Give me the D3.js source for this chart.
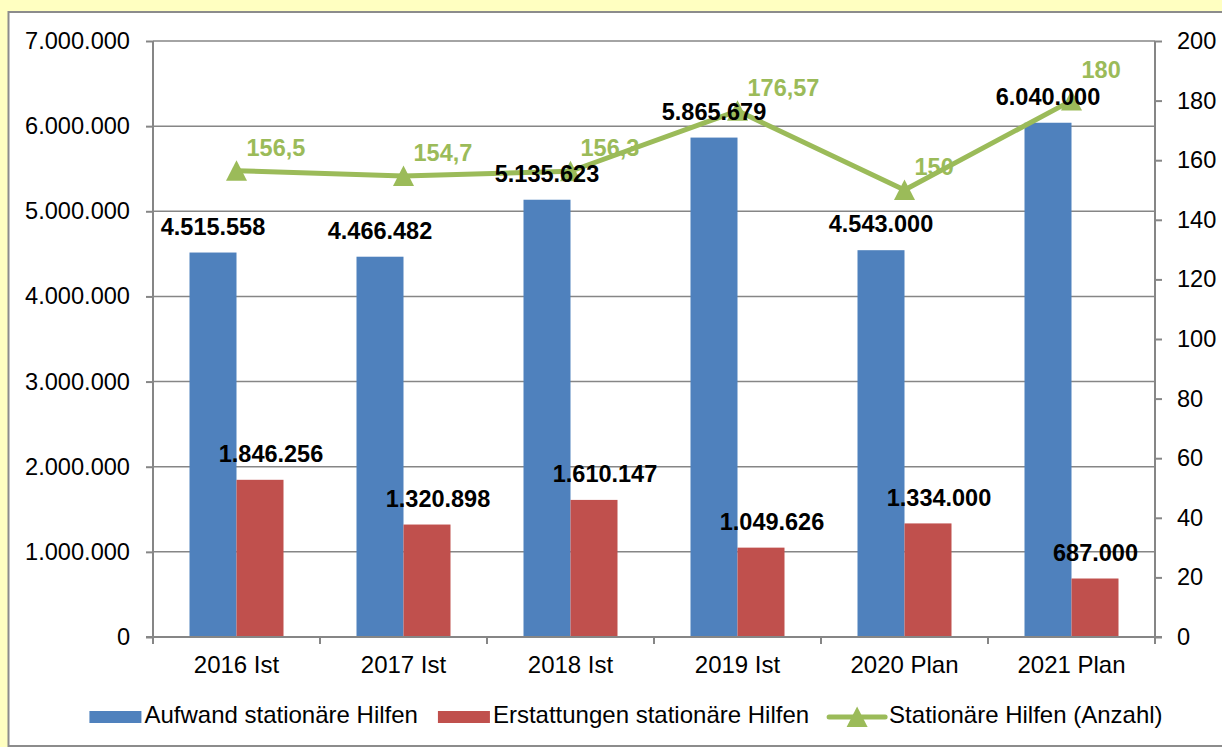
<!DOCTYPE html>
<html>
<head>
<meta charset="utf-8">
<script src="https://cdn.jsdelivr.net/npm/d3@7"></script>
<style>
  html, body { margin: 0; padding: 0; background: #FFFFC1; }
  svg { display: block; font-family: "Liberation Sans", Arial, sans-serif; }
</style>
</head>
<body>
<svg id="chart" width="1222" height="747"></svg>
<script>
const categories = ["2016 Ist", "2017 Ist", "2018 Ist", "2019 Ist", "2020 Plan", "2021 Plan"];
const aufwand = [4515558, 4466482, 5135623, 5865679, 4543000, 6040000];
const erstattungen = [1846256, 1320898, 1610147, 1049626, 1334000, 687000];
const anzahl = [156.5, 154.7, 156.3, 176.57, 150, 180];
const anzahlLabels = ["156,5", "154,7", "156,3", "176,57", "150", "180"];
const leftTicks = [0, 1000000, 2000000, 3000000, 4000000, 5000000, 6000000, 7000000];
const rightTicks = [0, 20, 40, 60, 80, 100, 120, 140, 160, 180, 200];
const seriesNames = ["Aufwand stationäre Hilfen", "Erstattungen stationäre Hilfen", "Stationäre Hilfen (Anzahl)"];

const colors = { blue: "#4F81BD", red: "#C0504D", green: "#9BBB59", axis: "#868686" };
const de = d3.formatLocale({ decimal: ",", thousands: ".", grouping: [3], currency: ["", " €"] });
const fmt = de.format(",d");

const svg = d3.select("#chart");
const W = 1222, H = 747;
const plot = { left: 153, right: 1155, top: 41, bottom: 637 };

svg.append("rect").attr("x", 0).attr("y", 0).attr("width", W).attr("height", H).attr("fill", "#FFFFC1");
svg.append("rect").attr("x", 8.5).attr("y", 12).attr("width", W + 20).attr("height", 734)
  .attr("fill", "#ffffff").attr("stroke", "#8c8c8c").attr("stroke-width", 2);

const x = d3.scaleBand().domain(categories).range([plot.left, plot.right]).padding(0);
const xs = d3.scaleBand().domain(["a", "e"]).range([0, x.bandwidth()]).paddingInner(0).paddingOuter(0.7766);
const yL = d3.scaleLinear().domain([0, 7000000]).range([plot.bottom, plot.top]);
const yR = d3.scaleLinear().domain([0, 200]).range([plot.bottom, plot.top]);

// gridlines
svg.append("g").selectAll("line").data(leftTicks.filter(d => d > 0)).join("line")
  .attr("x1", plot.left).attr("x2", plot.right)
  .attr("y1", d => yL(d)).attr("y2", d => yL(d))
  .attr("stroke", colors.axis).attr("stroke-width", 1.5);

// bars
const g = svg.append("g");
g.selectAll("rect.a").data(aufwand).join("rect").attr("class", "a")
  .attr("x", (d, i) => x(categories[i]) + xs("a")).attr("width", xs.bandwidth())
  .attr("y", d => yL(d)).attr("height", d => yL(0) - yL(d)).attr("fill", colors.blue);
g.selectAll("rect.e").data(erstattungen).join("rect").attr("class", "e")
  .attr("x", (d, i) => x(categories[i]) + xs("e")).attr("width", xs.bandwidth())
  .attr("y", d => yL(d)).attr("height", d => yL(0) - yL(d)).attr("fill", colors.red);

// axes
const axL = svg.append("g").attr("transform", `translate(${plot.left},0)`)
  .call(d3.axisLeft(yL).tickValues(leftTicks).tickSize(7).tickPadding(16).tickFormat(fmt));
const axR = svg.append("g").attr("transform", `translate(${plot.right},0)`)
  .call(d3.axisRight(yR).tickValues(rightTicks).tickSize(7).tickPadding(15));
const xEdges = categories.map(c => x(c)).concat([plot.right]);
const axX = svg.append("g");
axX.append("line").attr("x1", plot.left - 7).attr("x2", plot.right + 7)
  .attr("y1", plot.bottom).attr("y2", plot.bottom).attr("stroke", colors.axis).attr("stroke-width", 2);
axX.selectAll("line.t").data(xEdges).join("line").attr("class", "t")
  .attr("x1", d => d).attr("x2", d => d).attr("y1", plot.bottom).attr("y2", plot.bottom + 7)
  .attr("stroke", colors.axis).attr("stroke-width", 2);
axX.selectAll("text").data(categories).join("text")
  .attr("x", d => x(d) + x.bandwidth() / 2).attr("y", plot.bottom + 36)
  .attr("text-anchor", "middle").attr("font-size", 24).attr("fill", "#000").text(d => d);

[axL, axR].forEach(a => {
  a.select(".domain").attr("stroke", colors.axis).attr("stroke-width", 2);
  a.selectAll(".tick line").attr("stroke", colors.axis).attr("stroke-width", 2);
  a.selectAll(".tick text").attr("font-size", 23.6).attr("fill", "#000")
    .attr("font-family", "'Liberation Sans', Arial, sans-serif");
});
axL.select(".domain").attr("d", `M0,${plot.bottom}V${plot.top}`);
axR.select(".domain").attr("d", `M0,${plot.bottom}V${plot.top}`);

// line
const pts = anzahl.map((d, i) => [x(categories[i]) + x.bandwidth() / 2, yR(d)]);
svg.append("path").attr("d", d3.line()(pts)).attr("fill", "none")
  .attr("stroke", colors.green).attr("stroke-width", 5).attr("stroke-linejoin", "round");
const tri = (cx, cy) => `M${cx},${cy - 10.5}L${cx + 10.5},${cy + 10}L${cx - 10.5},${cy + 10}Z`;
svg.append("g").selectAll("path").data(pts).join("path")
  .attr("d", d => tri(d[0], d[1])).attr("fill", colors.green);

// green labels
const greenLab = svg.append("g").selectAll("text").data(pts).join("text")
  .attr("x", d => d[0] + 10).attr("y", d => d[1] - 15)
  .attr("font-size", 23.5).attr("font-weight", "bold").attr("fill", colors.green)
  .text((d, i) => anzahlLabels[i]);

// bar labels
const blueLab = svg.append("g").selectAll("text").data(aufwand).join("text")
  .attr("x", (d, i) => x(categories[i]) + xs("a") + xs.bandwidth() / 2).attr("y", d => yL(d) - 18)
  .attr("text-anchor", "middle").attr("font-size", 23.5).attr("font-weight", "bold").attr("fill", "#000")
  .text(d => fmt(d));
const redLab = svg.append("g").selectAll("text").data(erstattungen).join("text")
  .attr("y", d => yL(d) - 17.5)
  .attr("text-anchor", "middle").attr("font-size", 23.5).attr("font-weight", "bold").attr("fill", "#000")
  .text(d => fmt(d));
redLab.attr("x", function (d, i) {
  const w = this.getComputedTextLength();
  const c = x(categories[i]) + xs("e") + xs.bandwidth() / 2 + 11;
  return Math.min(c, plot.right - 17 - w / 2);
});

// nudge green labels upward where they clearly collide with a value label
const blackBoxes = blueLab.nodes().map(n => n.getBBox());
greenLab.each(function () {
  const b = this.getBBox();
  blackBoxes.forEach(k => {
    const ox = Math.min(b.x + b.width, k.x + k.width) - Math.max(b.x, k.x);
    const oy = Math.min(b.y + b.height, k.y + k.height) - Math.max(b.y, k.y);
    if (ox > 0.4 * b.width && oy > 0) {
      const cur = +d3.select(this).attr("y");
      d3.select(this).attr("y", cur - oy - 1);
    }
  });
});

// legend
const leg = svg.append("g");
const legY = 723;
const items = [];
seriesNames.forEach((name, i) => {
  const it = leg.append("g");
  if (i < 2) {
    it.append("rect").attr("x", 0).attr("y", -12).attr("width", 52).attr("height", 12)
      .attr("fill", i === 0 ? colors.blue : colors.red);
  } else {
    it.append("line").attr("x1", 0).attr("x2", 56).attr("y1", -6).attr("y2", -6)
      .attr("stroke", colors.green).attr("stroke-width", 5).attr("stroke-linecap", "round");
    it.append("path").attr("d", tri(28, -6)).attr("fill", colors.green);
  }
  it.append("text").attr("x", i < 2 ? 55 : 60).attr("y", 0)
    .attr("font-size", 24).attr("fill", "#000").text(name);
  items.push(it);
});
const widths = items.map(it => it.node().getBBox().width);
const gap = 20;
const total = d3.sum(widths) + gap * (items.length - 1);
let start = 626 - total / 2;
items.forEach((it, i) => {
  it.attr("transform", `translate(${start},${legY})`);
  start += widths[i] + gap;
});
</script>
</body>
</html>
